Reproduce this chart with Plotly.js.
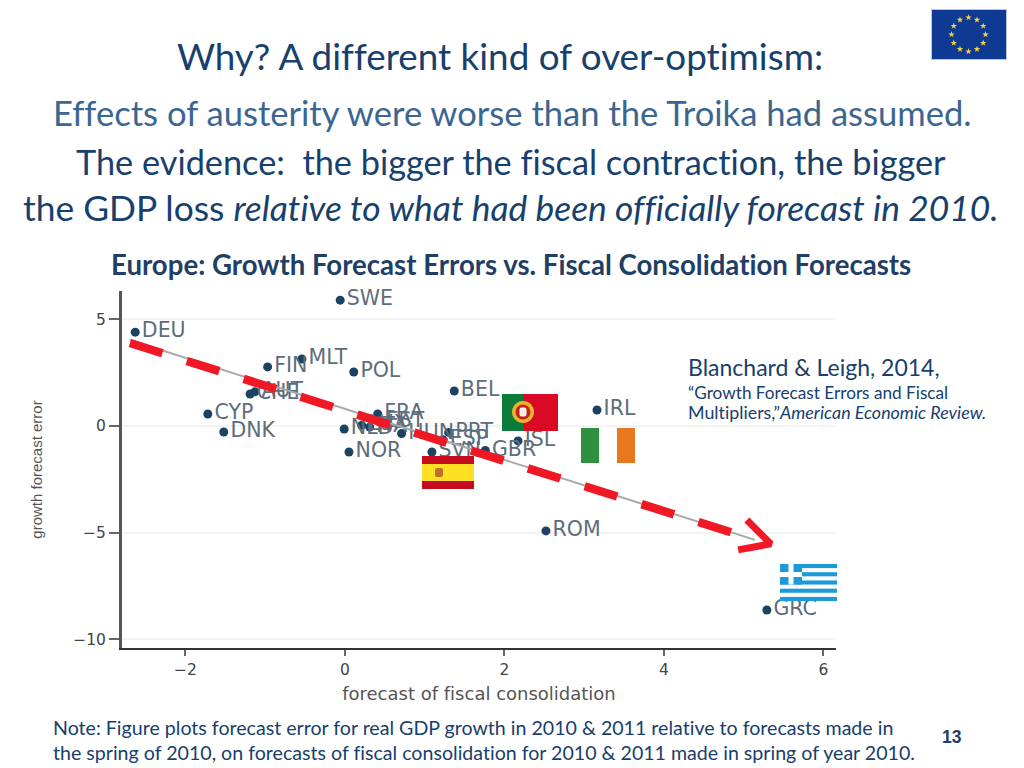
<!DOCTYPE html>
<html><head><meta charset="utf-8">
<script src="https://cdn.plot.ly/plotly-3.0.1.min.js"></script>
<style>html,body{margin:0;padding:0;background:#fff}#chart{width:1024px;height:768px}
svg text{font-variant-ligatures:none;font-feature-settings:"liga" 0,"clig" 0}</style>
</head><body><div id="chart"></div>
<script>
const countries = ["DEU","SWE","FIN","MLT","POL","CHE","AUT","CYP","DNK","BEL","IRL","FRA","EST","NLD","LUX","ITA","HUN","PRT","ESP","NOR","SVN","GBR","ISL","ROM","GRC"];
const fiscalForecast = [-2.63,-0.06,-0.97,-0.54,0.11,-1.19,-1.13,-1.72,-1.52,1.37,3.16,0.41,0.43,-0.01,0.21,0.31,0.71,1.30,1.23,0.05,1.09,1.76,2.17,2.52,5.29];
const growthError = [4.40,5.90,2.77,3.14,2.53,1.50,1.60,0.56,-0.28,1.64,0.75,0.56,0.20,-0.14,0.03,-0.05,-0.35,-0.30,-0.65,-1.22,-1.22,-1.15,-0.70,-4.92,-8.63];
const trendX = [-2.70,5.14];
const trendY = [4.03,-5.34];
const arrowX = [-2.696,4.87];
const arrowY = [3.89,-5.02];
const headX = [5.04,5.34,4.93];
const headY = [-4.41,-5.53,-5.81];
const xTicks = [-2,0,2,4,6];
const yTicks = [-10,-5,0,5];

const L=122,T=291,W=714,H=357;
const px=x=>(x-L)/W, py=y=>(T+H-y)/H;
const NAVY='#17406d', BLUE='#3c6692', DARK='#1f3f66';
function note(text,x,y,size,color,anchor,extra){
  return Object.assign({text:text,xref:'paper',yref:'paper',x:px(x),y:py(y),xanchor:anchor||'center',yanchor:'middle',showarrow:false,
    font:{family:'Lato',size:size,color:color}},extra||{});
}
const svg=s=>'data:image/svg+xml;charset=utf-8,'+encodeURIComponent(s);
function flag(body,w,h){return svg(`<svg xmlns="http://www.w3.org/2000/svg" width="${w}" height="${h}" viewBox="0 0 ${w} ${h}">${body}</svg>`);}
function img(src,x,y,w,h){return {source:src,xref:'paper',yref:'paper',x:px(x),y:py(y),sizex:w/W,sizey:h/H,sizing:'stretch',xanchor:'left',yanchor:'top',layer:'above'};}
function star(cx,cy,r){let p=[];for(let i=0;i<10;i++){const a=-Math.PI/2+i*Math.PI/5,q=i%2?r*0.4:r;p.push((cx+q*Math.cos(a)).toFixed(2)+','+(cy+q*Math.sin(a)).toFixed(2));}return `<polygon points="${p.join(' ')}" fill="#f5d33c"/>`;}
let euStars='';for(let i=0;i<12;i++){const a=i*Math.PI/6;euStars+=star(37.5+17*Math.sin(a),25.5-17*Math.cos(a),3.4);}
const euFlag=flag(`<rect width="76" height="51" fill="#0f3a94"/>${euStars}<rect x=".5" y=".5" width="75" height="50" fill="none" stroke="#b9c4d8"/>`,76,51);
const ptFlag=flag(`<rect width="56" height="37" fill="#da0a26"/><rect width="21" height="37" fill="#0b7a3b"/><circle cx="21" cy="18" r="11" fill="#e5b52c"/><circle cx="21" cy="18" r="7.5" fill="#c8201f"/><rect x="17.5" y="13.5" width="7" height="9" rx="2" fill="#f4efe6"/>`,56,37);
const ieFlag=flag(`<rect width="54" height="35" fill="#fff"/><rect width="18" height="35" fill="#2f9140"/><rect x="36" width="18" height="35" fill="#e8771f"/>`,54,35);
const esFlag=flag(`<rect width="52" height="33" fill="#c60b1e"/><rect y="8" width="52" height="17" fill="#fbe122"/><rect x="13" y="12" width="8" height="9" rx="2" fill="#c0702a"/>`,52,33);
let grStripes='';for(let i=0;i<9;i+=2)grStripes+=`<rect y="${i*37/9}" width="57" height="${37/9}" fill="#1d9ad9"/>`;
const grFlag=flag(`<rect width="57" height="37" fill="#fff"/>${grStripes}<rect width="22" height="20.5" fill="#1d9ad9"/><rect x="8.5" width="5" height="20.5" fill="#fff"/><rect y="8" width="22" height="5" fill="#fff"/>`,57,37);

const traces=[
 {type:'scatter',mode:'markers+text',x:fiscalForecast,y:growthError,text:countries,textposition:'middle right',
  marker:{size:9,color:'#1c4263'},textfont:{family:'DejaVu Sans',size:20.5,color:'#5d6d7c'},cliponaxis:false,hoverinfo:'text'},
 {type:'scatter',mode:'lines',x:trendX,y:trendY,line:{color:'#a9a9a9',width:2},hoverinfo:'skip'},
 {type:'scatter',mode:'lines',x:arrowX,y:arrowY,line:{color:'#f01824',width:8.5,dash:'34px,25.6px'},hoverinfo:'skip'},
 {type:'scatter',mode:'lines',x:headX,y:headY,line:{color:'#f01824',width:7},hoverinfo:'skip'}
];
const layout={
 width:1024,height:768,autosize:false,showlegend:false,paper_bgcolor:'#fff',plot_bgcolor:'#fff',
 margin:{l:L,t:T,r:1024-L-W,b:768-T-H,pad:0},
 title:{text:'Why? A different kind of over-optimism:',x:500/1024,xref:'container',xanchor:'center',y:1-57/768,yref:'container',yanchor:'middle',font:{family:'Lato',size:36.8,color:NAVY},pad:{t:0,b:0,l:0,r:0}},
 xaxis:{range:[-2.796,6.157],tickvals:xTicks,ticks:'outside',ticklen:6,tickwidth:2,tickcolor:'#666',showgrid:false,zeroline:false,showline:true,linecolor:'#333',linewidth:2,
   tickfont:{family:'DejaVu Sans',size:15.5,color:'#444'},title:{text:'forecast of fiscal consolidation',font:{family:'DejaVu Sans',size:18,color:'#555'},standoff:10}},
 yaxis:{range:[-10.41,6.33],tickvals:yTicks,ticks:'outside',ticklen:10,tickwidth:2,tickcolor:'#666',showgrid:true,gridcolor:'#f3f3f3',gridwidth:2,zeroline:false,showline:true,linecolor:'#555',linewidth:3,
   tickfont:{family:'DejaVu Sans',size:15.5,color:'#444'},title:{text:'growth forecast error',font:{family:'Liberation Sans',size:15,color:'#555'},standoff:27}},
 annotations:[
  note('Effects of austerity were worse than the Troika had assumed.',512.5,112,34.6,BLUE),
  note('The evidence:  the bigger the fiscal contraction, the bigger',511,162,34.3,NAVY),
  note('the GDP loss <i>relative to what had been officially forecast in 2010.</i>',511,207,35.4,NAVY),
  note('<b>Europe: Growth Forecast Errors vs. Fiscal Consolidation Forecasts</b>',511,264,27.6,DARK),
  note('Blanchard &amp; Leigh, 2014,',686,367,23,NAVY,'left'),
  note('“Growth Forecast Errors and Fiscal',686,392,17.2,NAVY,'left'),
  note('Multipliers,”<i>American Economic Review.</i>',686,412,17.85,NAVY,'left'),
  note('Note: Figure plots forecast error for real GDP growth in 2010 &amp; 2011 relative to forecasts made in',51,727,19.6,NAVY,'left'),
  note('the spring of 2010, on forecasts of fiscal consolidation for 2010 &amp; 2011 made in spring of year 2010.',51,752,19.6,NAVY,'left'),
  Object.assign(note('<b>13</b>',952,737,17.5,'#1f3f66'),{font:{family:'Liberation Sans',size:17.5,color:'#1f3f66'}})
 ],
 images:[
  img(euFlag,931,9,76,51),
  img(ptFlag,502,394,56,37),
  img(ieFlag,581,428,54,35),
  img(esFlag,422,456,52,33),
  img(grFlag,780,564,57,37)
 ]
};
Plotly.newPlot('chart',traces,layout,{staticPlot:true,displayModeBar:false});
</script></body></html>
